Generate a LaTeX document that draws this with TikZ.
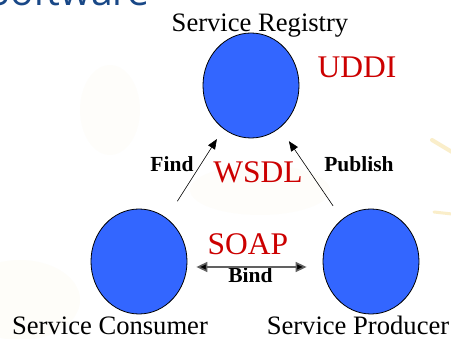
\documentclass[tikz,border=0pt]{standalone}
\usepackage{fontspec}
\setmainfont{Liberation Serif}
\newfontfamily\titlefont{Open Sans}
\usetikzlibrary{shapes.geometric,arrows.meta}
\definecolor{ballblue}{RGB}{51,102,255}
\definecolor{protored}{RGB}{204,0,0}
\definecolor{titleblue}{RGB}{25,72,135}
\definecolor{swirl}{RGB}{240,200,80}
\tikzset{
  ball/.style={ellipse, draw=black, line width=0.8pt, fill=ballblue, minimum width=96pt, minimum height=105pt, inner sep=0pt},
  caption/.style={anchor=base, font=\fontsize{26.6}{30}\selectfont, inner sep=0pt},
  proto/.style={anchor=base, text=protored, font=\fontsize{31.5}{36}\selectfont, inner sep=0pt},
  verb/.style={anchor=base, font=\fontsize{21.5}{25}\selectfont\bfseries, inner sep=0pt},
  link/.style={draw=black, line width=0.6pt, -{Triangle[length=10pt,width=8pt]}},
  bindlink/.style={draw=black!62, line width=1.6pt, {Triangle[length=11pt,width=10pt,fill=black]}-{Triangle[length=11pt,width=10pt,fill=black]}}
}
\begin{document}
\begin{tikzpicture}[x=1pt,y=-1pt]
\useasboundingbox (0,0) rectangle (451,339);
\fill[white] (0,0) rectangle (451,339);
% faint background decoration
\begin{scope}
\clip (0,0) rectangle (451,339);
\fill[swirl, opacity=0.03] (20,300) ellipse (60 and 40);
\fill[swirl, opacity=0.025] (110,110) ellipse (30 and 45);
\fill[swirl, opacity=0.025] (260,190) ellipse (70 and 25);
\draw[swirl, opacity=0.3, line width=4pt, line cap=round] (432,140) -- (452,152);
\draw[swirl, opacity=0.3, line width=3pt, line cap=round] (434,212) -- (452,214);
\node[anchor=base east, inner sep=0pt, text=titleblue, font=\titlefont\fontsize{39}{44}\selectfont] (title) at (150,6) {Software};
\end{scope}
% nodes
\node[ball] (registry) at (251,85.5) {};
\node[ball] (consumer) at (139,261.5) {};
\node[ball] (producer) at (371,261.5) {};
\node[caption] (lreg) at (260,32) {Service Registry};
\node[caption] (lcons) at (110,334.5) {Service Consumer};
\node[caption] (lprod) at (358,334.5) {Service Producer};
\node[proto] (uddi) at (357,78) {UDDI};
\node[proto] (wsdl) at (258,183) {WSDL};
\node[proto] (soap) at (248,255) {SOAP};
\node[verb] (find) at (172,172) {Find};
\node[verb] (publish) at (359,172) {Publish};
\node[verb] (bind) at (250.5,283) {Bind};
% connectors
\draw[link, shorten <=20pt, shorten >=12pt] (consumer) -- (registry);
\draw[link, shorten <=16pt, shorten >=16pt] (producer) -- (registry);
\draw[bindlink, shorten <=9pt, shorten >=16pt] ([yshift=-5.5pt]consumer.east) -- ([yshift=-5.5pt]producer.west);
\end{tikzpicture}
\end{document}
